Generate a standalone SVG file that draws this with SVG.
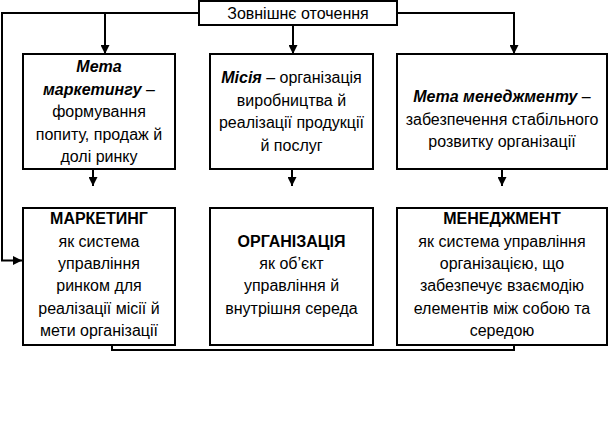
<svg xmlns="http://www.w3.org/2000/svg" width="608" height="430" viewBox="0 0 608 430">
<defs>
<marker id="ah" viewBox="0 0 10 10" refX="10" refY="5" markerWidth="5" markerHeight="4.5" markerUnits="strokeWidth" orient="auto">
<path d="M0,0 L10,5 L0,10 z" fill="#000"/>
</marker>
<style>
rect{fill:#fff;stroke:#000;stroke-width:2}
text{font-family:"Liberation Sans",Arial,sans-serif;font-size:16px;fill:#000;text-anchor:middle}
.b{font-weight:bold}
.bi{font-weight:bold;font-style:italic}
.c{fill:none;stroke:#000;stroke-width:2}
.a{marker-end:url(#ah)}
</style>
</defs>
<rect width="608" height="430" style="fill:#fff;stroke:none"/>
<g id="connectors">
<path class="c a" d="M199,13 H2 V260.5 H22"/>
<path class="c a" d="M105,13 V54"/>
<path class="c a" d="M293,25 V54"/>
<path class="c a" d="M397,13 H514 V54"/>
<path class="c a" d="M93,169 V186"/>
<path class="c a" d="M292,169 V186"/>
<path class="c a" d="M502,147 V186"/>
<path class="c" d="M112,345 V350 H514 V345"/>
</g>
<g id="env">
<rect x="199" y="1" width="198" height="24"/>
<text x="298" y="18.5">Зовнішнє оточення</text>
</g>
<g id="goal-marketing">
<rect x="23" y="54" width="152" height="115"/>
<text x="99" y="72" class="bi">Мета</text>
<text x="99" y="94.5"><tspan class="bi">маркетингу</tspan> –</text>
<text x="99" y="117">формування</text>
<text x="99" y="139.5">попиту, продаж й</text>
<text x="99" y="162">долі ринку</text>
</g>
<g id="mission">
<rect x="210" y="54" width="163" height="115"/>
<text x="291.5" y="83"><tspan class="bi">Місія</tspan> – організація</text>
<text x="291.5" y="105.5">виробництва й</text>
<text x="291.5" y="128">реалізації продукції</text>
<text x="291.5" y="150.5">й послуг</text>
</g>
<g id="goal-management">
<rect x="397" y="54" width="210" height="115"/>
<text x="502" y="102"><tspan class="bi">Мета менеджменту</tspan> –</text>
<text x="502" y="124.5">забезпечення стабільного</text>
<text x="502" y="147">розвитку організації</text>
</g>
<g id="marketing">
<rect x="23" y="208" width="152" height="137"/>
<text x="99" y="224" class="b">МАРКЕТИНГ</text>
<text x="99" y="246.5">як система</text>
<text x="99" y="268.5">управління</text>
<text x="99" y="291">ринком для</text>
<text x="99" y="313.5">реалізації місії й</text>
<text x="99" y="336">мети організації</text>
</g>
<g id="organization">
<rect x="210" y="208" width="163" height="137"/>
<text x="291.5" y="246.5" class="b">ОРГАНІЗАЦІЯ</text>
<text x="291.5" y="268.5">як об’єкт</text>
<text x="291.5" y="291">управління й</text>
<text x="291.5" y="313.5">внутрішня середа</text>
</g>
<g id="management">
<rect x="397" y="208" width="210" height="137"/>
<text x="502" y="224" class="b">МЕНЕДЖМЕНТ</text>
<text x="502" y="246.5">як система управління</text>
<text x="502" y="268.5">організацією, що</text>
<text x="502" y="291">забезпечує взаємодію</text>
<text x="502" y="313.5">елементів між собою та</text>
<text x="502" y="336">середою</text>
</g>
</svg>
